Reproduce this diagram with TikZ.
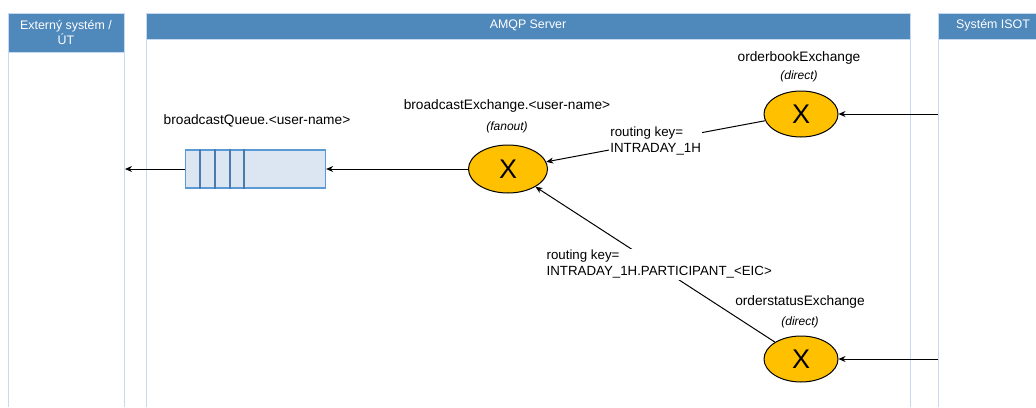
\documentclass[tikz,border=0pt]{standalone}
\usepackage{fontspec}
\setmainfont{Liberation Sans}
\usetikzlibrary{arrows.meta,shapes.geometric}
\definecolor{hdr}{HTML}{4F88BB}
\definecolor{lanebd}{HTML}{C6D9F1}
\definecolor{qfill}{HTML}{DCE6F2}
\definecolor{qbd}{HTML}{5B9BD5}
\definecolor{qdiv}{HTML}{4A7AB0}
\definecolor{exfill}{HTML}{FFC000}
\begin{document}
\begin{tikzpicture}[x=1pt,y=-1pt,
  laneln/.style={draw=lanebd,line width=1pt},
  hdrtext/.style={text=white,align=center,font=\fontsize{12.4}{15}\selectfont,inner sep=0pt},
  exch/.style={ellipse,draw=black,fill=exfill,line width=1pt,inner sep=0pt,font=\fontsize{27}{27}\selectfont},
  lbl/.style={font=\fontsize{13.7}{16}\selectfont,inner sep=0pt},
  sublbl/.style={font=\fontsize{12}{14}\selectfont\itshape,inner sep=0pt},
  rk/.style={fill=white,align=left,font=\fontsize{13.3}{16}\selectfont,inner sep=1pt},
  arr/.style={-{Stealth[length=7pt,width=6pt]},line width=1pt},
  queue/.style={draw=qbd,fill=qfill,line width=1.3pt,minimum width=140pt,minimum height=38pt,inner sep=0pt}
]
\useasboundingbox (0,0) rectangle (1036,407);
% lanes
\fill[hdr] (8,13) rectangle (124,52);
\draw[laneln] (8,407) -- (8,13) -- (124,13) -- (124,407);
\draw[laneln] (8,52) -- (124,52);
\node[hdrtext] (h1) at (66,32) {Externý systém /\\ÚT};

\fill[hdr] (146,13) rectangle (910,39);
\draw[laneln] (146,407) -- (146,13) -- (910,13) -- (910,407);
\draw[laneln] (146,39) -- (910,39);
\node[hdrtext] (h2) at (528,25) {AMQP Server};

\fill[hdr] (938,13) rectangle (1036,39);
\draw[laneln] (938,407) -- (938,13) -- (1036,13);
\draw[laneln] (938,39) -- (1036,39);
\node[hdrtext] (h3) at (993,25) {Systém ISOT};

% queue
\node[queue] (q) at (255.5,169) {};
\foreach \d in {15,30,45,59} {
  \draw[qdiv,line width=1.3pt] ([xshift=\d pt]q.north west) -- ([xshift=\d pt]q.south west);
}
\node[lbl] (ql) at (257,121) {broadcastQueue.<user-name>};
\coordinate (l1) at (125,169);
\draw[arr] (q.west) -- (l1);

% broadcast exchange
\node[exch,minimum width=79pt,minimum height=48pt] (bx) at (508,169) {X};
\node[lbl] (bxl) at (507,106) {broadcastExchange.<user-name>};
\node[sublbl] (bxs) at (507,127) {(fanout)};
\draw[arr] (bx) -- (q);

% orderbook exchange
\node[exch,minimum width=74pt,minimum height=46pt] (ob) at (801,114) {X};
\node[lbl] (obl) at (799,58) {orderbookExchange};
\node[sublbl] (obs) at (799,76) {(direct)};
\coordinate (i1) at (938,114);
\draw[arr] (i1) -- (ob);

% orderstatus exchange
\node[exch,minimum width=74pt,minimum height=46pt] (os) at (801,359) {X};
\node[lbl] (osl) at (800,302) {orderstatusExchange};
\node[sublbl] (oss) at (800,322) {(direct)};
\coordinate (i2) at (938,359);
\draw[arr] (i2) -- (os);

% routing
\draw[arr] (ob) -- node[rk] (rk1) {routing key=\\INTRADAY\_1H} (bx);
\draw[arr] (os) -- node[rk,xshift=4pt] (rk2) {routing key=\\INTRADAY\_1H.PARTICIPANT\_<EIC>} (bx);
\end{tikzpicture}
\end{document}
